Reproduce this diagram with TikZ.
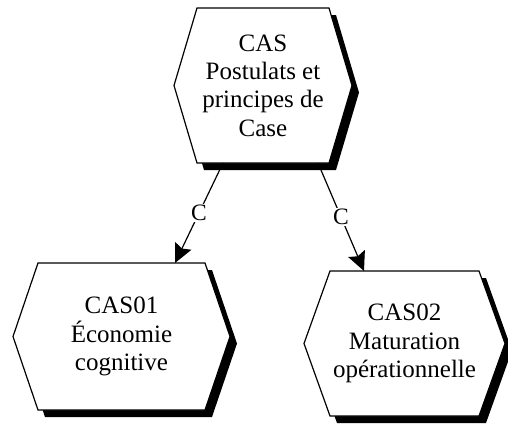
\documentclass[tikz,border=0pt]{standalone}
\usepackage{fontspec}
\setmainfont{Liberation Serif}
\usetikzlibrary{arrows.meta,calc}

\tikzset{
  hexshadow/.style={fill=black},
  hexline/.style={draw=black,fill=white,line width=1.2pt,line join=miter},
  hextext/.style={inner sep=0pt,outer sep=0pt,align=center,
    font=\fontsize{25}{28.3}\selectfont},
  conn/.style={draw=black,line width=1.2pt,
    -{Stealth[length=19pt,width=18pt,inset=3pt]}},
  lbl/.style={fill=white,inner sep=1.5pt,font=\fontsize{23.5}{26}\selectfont}
}

% #1 name, #2 cx, #3 cy, #4 half width, #5 half height, #6 side inset, #7 text
\newcommand\hexbox[7]{%
  \begin{scope}[shift={(#2,#3)}]
    \fill[hexshadow,shift={(7,7)}] (-#4+#6,-#5) -- (#4-#6,-#5) -- (#4,0)
      -- (#4-#6,#5) -- (-#4+#6,#5) -- (-#4,0) -- cycle;
    \path[hexline] (-#4+#6,-#5) -- (#4-#6,-#5) -- (#4,0)
      -- (#4-#6,#5) -- (-#4+#6,#5) -- (-#4,0) -- cycle;
    \node[hextext,minimum width=2*#4,minimum height=2*#5] (#1) at (0,0) {#7};
  \end{scope}%
}

\begin{document}
\begin{tikzpicture}[x=1pt,y=-1pt]
  \useasboundingbox (0,0) rectangle (508,424);

  \hexbox{cas}{263}{85.5}{89}{77.5}{23}{CAS\\Postulats et\\principes de\\Case}
  \hexbox{cas01}{121.5}{336.5}{108.5}{73.5}{25}{CAS01\\Économie\\cognitive}
  \hexbox{cas02}{404.5}{343.5}{100.5}{72.5}{26}{CAS02\\Maturation\\opérationnelle}

  \draw[conn] ($(cas.south)+(-40,0)$) -- node[lbl]{C} ($(cas01.north)+(53.5,0)$);
  \draw[conn] ($(cas.south)+(55,0)$) -- node[lbl]{C} ($(cas02.north)+(-40.5,0)$);
\end{tikzpicture}
\end{document}
